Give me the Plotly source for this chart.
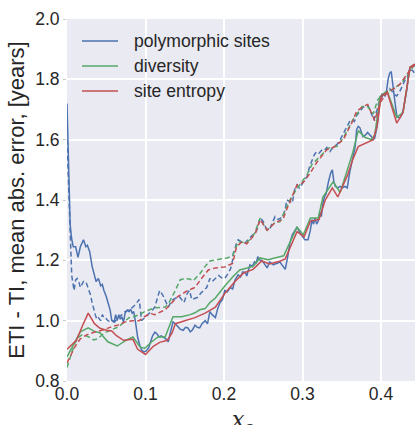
import plotly.graph_objects as go

# ---- data: mean absolute error of ETI - TI vs x_c ----
# polymorphic sites
poly_x = [0.000, 0.002, 0.004, 0.006, 0.008, 0.011, 0.014, 0.017, 0.021, 0.024, 0.026, 0.029,
          0.032, 0.035, 0.037, 0.040, 0.043, 0.045, 0.047, 0.050, 0.052, 0.055, 0.057, 0.060,
          0.062, 0.064, 0.066, 0.068, 0.070, 0.072, 0.074, 0.077, 0.079, 0.081, 0.083, 0.085,
          0.087, 0.090, 0.093, 0.095, 0.098, 0.101, 0.104, 0.107, 0.109, 0.112, 0.115, 0.117,
          0.120, 0.123, 0.126, 0.129, 0.132, 0.135, 0.138, 0.141, 0.144, 0.148, 0.151, 0.154,
          0.157, 0.160, 0.163, 0.166, 0.169, 0.172, 0.176, 0.179, 0.182, 0.185, 0.189, 0.192,
          0.195, 0.198, 0.201, 0.204, 0.208, 0.211, 0.214, 0.218, 0.221, 0.224, 0.227, 0.229,
          0.231, 0.233, 0.236, 0.239, 0.241, 0.243, 0.246, 0.248, 0.251, 0.253, 0.255, 0.258,
          0.261, 0.263, 0.265, 0.268, 0.271, 0.274, 0.276, 0.278, 0.281, 0.284, 0.287, 0.290,
          0.293, 0.297, 0.300, 0.303, 0.307, 0.310, 0.312, 0.314, 0.316, 0.318, 0.320, 0.322,
          0.324, 0.326, 0.328, 0.330, 0.333, 0.336, 0.338, 0.340, 0.342, 0.345, 0.348, 0.351,
          0.354, 0.357, 0.360, 0.363, 0.365, 0.367, 0.369, 0.371, 0.373, 0.375, 0.377, 0.380,
          0.383, 0.386, 0.388, 0.390, 0.392, 0.395, 0.397, 0.399, 0.401, 0.403, 0.405, 0.407,
          0.409, 0.411, 0.413, 0.414, 0.416, 0.418, 0.420, 0.422, 0.424, 0.426, 0.428, 0.430,
          0.433, 0.435, 0.437, 0.440, 0.443]
poly_y = [1.72, 1.52, 1.32, 1.27, 1.245, 1.245, 1.21, 1.245, 1.268, 1.245, 1.25, 1.228,
          1.18, 1.15, 1.13, 1.14, 1.115, 1.12, 1.10, 1.08, 1.065, 1.035, 1.00, 0.995,
          1.02, 1.00, 1.02, 1.005, 1.012, 0.995, 1.025, 1.035, 1.03, 1.038, 1.025, 1.03,
          1.00, 0.945, 0.915, 0.903, 0.896, 0.90, 0.91, 0.93, 0.95, 0.962, 0.955, 0.946,
          0.95, 0.945, 0.94, 0.93, 0.965, 0.996, 0.99, 0.98, 0.972, 0.968, 0.978, 0.976,
          0.963, 0.97, 0.985, 0.978, 0.976, 0.99, 1.00, 0.99, 1.03, 1.02, 1.01, 1.04,
          1.06, 1.07, 1.10, 1.095, 1.11, 1.105, 1.135, 1.152, 1.145, 1.162, 1.16, 1.148,
          1.17, 1.185, 1.18, 1.195, 1.19, 1.212, 1.20, 1.20, 1.19, 1.18, 1.175, 1.195,
          1.19, 1.185, 1.188, 1.19, 1.195, 1.185, 1.18, 1.17, 1.21, 1.258, 1.285, 1.30,
          1.31, 1.29, 1.28, 1.268, 1.268, 1.30, 1.335, 1.32, 1.34, 1.32, 1.33, 1.36,
          1.345, 1.39, 1.41, 1.42, 1.46, 1.49, 1.50, 1.46, 1.445, 1.44, 1.445, 1.44,
          1.445, 1.44, 1.49, 1.528, 1.56, 1.575, 1.634, 1.644, 1.64, 1.625, 1.61, 1.615,
          1.624, 1.615, 1.61, 1.60, 1.605, 1.644, 1.70, 1.733, 1.74, 1.75, 1.745, 1.76,
          1.80, 1.82, 1.826, 1.80, 1.75, 1.72, 1.68, 1.674, 1.672, 1.68, 1.694, 1.72,
          1.767, 1.82, 1.84, 1.843, 1.845]

poly_dash_x = [0.000, 0.002, 0.004, 0.006, 0.009, 0.011, 0.013, 0.015, 0.017, 0.019, 0.021, 0.024,
               0.027, 0.030, 0.032, 0.034, 0.036, 0.038, 0.040, 0.043, 0.045, 0.047, 0.049, 0.052,
               0.055, 0.058, 0.061, 0.064, 0.066, 0.070, 0.074, 0.079, 0.083, 0.087, 0.090, 0.092,
               0.095, 0.099, 0.103, 0.106, 0.109, 0.112, 0.115, 0.118, 0.122, 0.125, 0.129, 0.132,
               0.135, 0.139, 0.143, 0.146, 0.149, 0.153, 0.156, 0.159, 0.163, 0.167, 0.170, 0.174,
               0.178, 0.182, 0.185, 0.189, 0.193, 0.197, 0.201, 0.204, 0.208, 0.210, 0.212, 0.214,
               0.216, 0.218, 0.222, 0.227, 0.230, 0.233, 0.237, 0.240, 0.243, 0.246, 0.248, 0.250,
               0.253, 0.255, 0.259, 0.262, 0.265, 0.269, 0.272, 0.275, 0.278, 0.280, 0.284, 0.287,
               0.290, 0.293, 0.296, 0.299, 0.302, 0.306, 0.309, 0.312, 0.315, 0.318, 0.321, 0.325,
               0.328, 0.331, 0.335, 0.339, 0.344, 0.348, 0.352, 0.356, 0.360, 0.363, 0.366, 0.369,
               0.372, 0.377, 0.383, 0.386, 0.388, 0.391, 0.395, 0.399, 0.402, 0.405, 0.408, 0.411,
               0.414, 0.417, 0.420, 0.424, 0.427, 0.430, 0.434, 0.437, 0.440, 0.443]
poly_dash_y = [1.60, 1.45, 1.25, 1.15, 1.10, 1.135, 1.14, 1.13, 1.11, 1.12, 1.13, 1.13,
               1.11, 1.085, 1.06, 1.035, 1.02, 1.005, 1.01, 1.00, 1.02, 1.01, 1.01, 1.00,
               0.997, 1.00, 0.997, 1.005, 1.01, 1.02, 1.03, 1.036, 1.043, 1.053, 1.065, 1.07,
               1.00, 1.01, 1.02, 1.026, 1.035, 1.046, 1.07, 1.10, 1.085, 1.07, 1.045, 1.06,
               1.07, 1.075, 1.08, 1.07, 1.06, 1.09, 1.10, 1.07, 1.075, 1.078, 1.09, 1.10,
               1.11, 1.14, 1.13, 1.14, 1.15, 1.142, 1.14, 1.152, 1.17, 1.185, 1.225, 1.235,
               1.26, 1.268, 1.262, 1.258, 1.268, 1.275, 1.285, 1.29, 1.31, 1.34, 1.335, 1.328,
               1.31, 1.30, 1.308, 1.33, 1.345, 1.335, 1.34, 1.345, 1.37, 1.40, 1.395, 1.39,
               1.435, 1.45, 1.44, 1.45, 1.465, 1.478, 1.51, 1.53, 1.55, 1.56, 1.555, 1.567,
               1.565, 1.574, 1.561, 1.575, 1.584, 1.60, 1.62, 1.64, 1.66, 1.667, 1.66, 1.68,
               1.69, 1.707, 1.714, 1.70, 1.684, 1.665, 1.70, 1.74, 1.755, 1.75, 1.765, 1.77,
               1.76, 1.75, 1.745, 1.76, 1.777, 1.795, 1.81, 1.83, 1.83, 1.82]

# diversity
div_x = [0.000, 0.005, 0.010, 0.017, 0.027, 0.036, 0.042, 0.052, 0.064, 0.076, 0.084, 0.093,
         0.099, 0.108, 0.116, 0.125, 0.135, 0.146, 0.157, 0.163, 0.169, 0.176, 0.182, 0.189,
         0.201, 0.211, 0.220, 0.237, 0.246, 0.256, 0.271, 0.276, 0.293, 0.301, 0.310, 0.320,
         0.326, 0.339, 0.348, 0.357, 0.364, 0.371, 0.380, 0.388, 0.392, 0.399, 0.408, 0.420,
         0.428, 0.437, 0.443]
div_y = [0.88, 0.905, 0.926, 0.963, 0.976, 0.963, 0.96, 0.93, 0.916, 0.936, 0.946, 0.913,
         0.908, 0.93, 0.946, 0.946, 1.013, 1.013, 1.02, 1.026, 1.036, 1.04, 1.06, 1.075,
         1.115, 1.145, 1.168, 1.18, 1.208, 1.202, 1.212, 1.215, 1.31, 1.285, 1.34, 1.34,
         1.41, 1.46, 1.425, 1.50, 1.557, 1.63, 1.607, 1.60, 1.615, 1.743, 1.76, 1.674,
         1.69, 1.84, 1.85]

div_dash_x = [0.000, 0.003, 0.006, 0.010, 0.015, 0.019, 0.024, 0.028, 0.034, 0.039, 0.048, 0.057,
              0.066, 0.073, 0.079, 0.085, 0.092, 0.099, 0.106, 0.112, 0.125, 0.130, 0.138, 0.144,
              0.150, 0.156, 0.161, 0.169, 0.176, 0.182, 0.191, 0.204, 0.211, 0.216, 0.218, 0.227,
              0.233, 0.239, 0.246, 0.252, 0.255, 0.265, 0.271, 0.278, 0.284, 0.293, 0.299, 0.306,
              0.312, 0.322, 0.333, 0.344, 0.352, 0.364, 0.376, 0.383, 0.390, 0.396, 0.405, 0.415,
              0.427, 0.435, 0.443]
div_dash_y = [0.845, 0.87, 0.896, 0.926, 0.945, 0.953, 0.95, 0.946, 0.936, 0.94, 0.96, 0.97,
              0.98, 0.996, 1.01, 1.013, 1.02, 1.03, 1.036, 1.043, 1.045, 1.06, 1.10, 1.135,
              1.14, 1.138, 1.133, 1.155, 1.18, 1.198, 1.202, 1.208, 1.215, 1.25, 1.262, 1.258,
              1.268, 1.29, 1.34, 1.31, 1.30, 1.325, 1.328, 1.365, 1.40, 1.438, 1.458, 1.485,
              1.518, 1.545, 1.572, 1.578, 1.606, 1.665, 1.71, 1.71, 1.685, 1.733, 1.757, 1.767,
              1.79, 1.82, 1.85]

# site entropy
ent_x = [0.000, 0.012, 0.020, 0.027, 0.035, 0.042, 0.050, 0.057, 0.063, 0.072, 0.084, 0.090,
         0.100, 0.110, 0.118, 0.128, 0.134, 0.138, 0.150, 0.163, 0.176, 0.189, 0.201, 0.214,
         0.225, 0.237, 0.248, 0.258, 0.272, 0.278, 0.293, 0.302, 0.310, 0.321, 0.329, 0.338,
         0.345, 0.357, 0.364, 0.371, 0.390, 0.395, 0.400, 0.408, 0.420, 0.428, 0.437, 0.443]
ent_y = [0.905, 0.935, 0.985, 1.025, 0.99, 0.975, 0.968, 0.966, 0.95, 0.935, 0.938, 0.905,
         0.888, 0.915, 0.928, 0.935, 0.96, 0.99, 1.00, 1.01, 1.025, 1.045, 1.09, 1.13,
         1.158, 1.17, 1.198, 1.188, 1.198, 1.205, 1.295, 1.278, 1.33, 1.335, 1.40, 1.44,
         1.41, 1.48, 1.534, 1.577, 1.60, 1.645, 1.743, 1.757, 1.655, 1.69, 1.84, 1.85]

ent_dash_x = [0.000, 0.005, 0.010, 0.017, 0.025, 0.036, 0.047, 0.057, 0.066, 0.074, 0.083, 0.092,
              0.098, 0.106, 0.112, 0.125, 0.134, 0.141, 0.154, 0.163, 0.172, 0.180, 0.189, 0.201,
              0.211, 0.216, 0.223, 0.229, 0.234, 0.240, 0.246, 0.255, 0.265, 0.275, 0.280, 0.285,
              0.293, 0.301, 0.310, 0.318, 0.331, 0.339, 0.352, 0.363, 0.369, 0.377, 0.383, 0.392,
              0.399, 0.408, 0.415, 0.424, 0.433, 0.443]
ent_dash_y = [0.86, 0.885, 0.913, 0.94, 0.953, 0.963, 0.97, 0.98, 0.986, 0.996, 1.00, 1.00,
              1.012, 1.024, 1.02, 1.036, 1.06, 1.08, 1.10, 1.11, 1.142, 1.168, 1.175, 1.178,
              1.19, 1.245, 1.262, 1.255, 1.27, 1.29, 1.335, 1.30, 1.325, 1.335, 1.37, 1.40,
              1.45, 1.458, 1.49, 1.524, 1.567, 1.574, 1.60, 1.657, 1.694, 1.71, 1.717, 1.663,
              1.723, 1.757, 1.767, 1.783, 1.817, 1.85]

names = ["polymorphic sites", "diversity", "site entropy"]
colors = ["#4C72B0", "#55A868", "#C44E52"]

y_ticks = [0.8, 1.0, 1.2, 1.4, 1.6, 1.8, 2.0]
x_ticks = [0.0, 0.1, 0.2, 0.3, 0.4]

series = [
    (poly_x, poly_y, poly_dash_x, poly_dash_y),
    (div_x, div_y, div_dash_x, div_dash_y),
    (ent_x, ent_y, ent_dash_x, ent_dash_y),
]

fig = go.Figure()
for (sx, sy, dx, dy), name, color in zip(series, names, colors):
    fig.add_trace(go.Scatter(x=sx, y=sy, mode="lines", name=name,
                             line=dict(color=color, width=1.5)))
    fig.add_trace(go.Scatter(x=dx, y=dy, mode="lines", name=name + " (dashed)",
                             line=dict(color=color, width=1.5, dash="5px,3px")))

# legend box drawn in paper coordinates: a line sample and a label per series
W_PLOT, H_PLOT = 348.0, 362.0
leg_shapes, leg_annos = [], []
for i, (name, color) in enumerate(zip(names, colors)):
    yp = 1 - (22 + 25 * i) / H_PLOT
    leg_shapes.append(dict(type="line", xref="paper", yref="paper",
                           x0=15 / W_PLOT, x1=51 / W_PLOT, y0=yp, y1=yp,
                           line=dict(color=color, width=1.5)))
    leg_annos.append(dict(text=name, xref="paper", yref="paper",
                          x=65 / W_PLOT, y=yp, xanchor="left", yanchor="middle",
                          showarrow=False, font=dict(size=17.6, color="#262626")))

font_main = "Liberation Sans, Arial, sans-serif"
fig.update_layout(
    width=415, height=425,
    margin=dict(l=67, r=0, t=19, b=44),
    paper_bgcolor="white",
    plot_bgcolor="#EAEAF2",
    font=dict(family=font_main, color="#262626", size=17.5),
    showlegend=False,
    shapes=leg_shapes,
    xaxis=dict(range=[0, 0.4433], tickvals=x_ticks, tickformat=".1f",
               showgrid=True, gridcolor="white", gridwidth=1.5,
               zeroline=False, showline=False, ticks="", ticklabelstandoff=0),
    yaxis=dict(range=[0.8, 2.0], tickvals=y_ticks, tickformat=".1f",
               showgrid=True, gridcolor="white", gridwidth=1.5,
               zeroline=False, showline=False, ticks="outside", ticklen=3,
               tickcolor="#CCCCCC", tickwidth=1,
               title=dict(text="ETI - TI, mean abs. error, [years]",
                          font=dict(size=22, color="#262626"), standoff=4)),
    annotations=leg_annos + [
        dict(text="<i>x</i><sub><i>c</i></sub>", xref="paper", yref="paper",
             x=0.505, y=-0.066, xanchor="center", yanchor="top", showarrow=False,
             font=dict(family="DejaVu Serif, serif", size=22, color="#262626"))],
)

fig.write_html("out.html")
